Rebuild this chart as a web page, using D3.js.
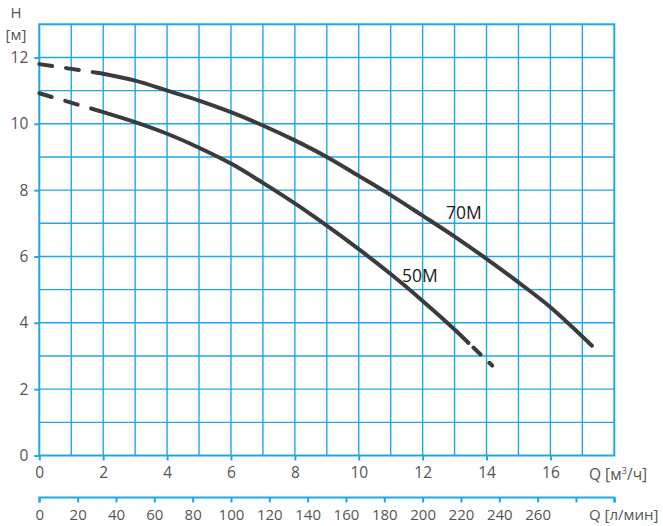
<!DOCTYPE html>
<html><head><meta charset="utf-8">
<script src="https://cdn.jsdelivr.net/npm/d3@7"></script>
<style>body{margin:0;background:#fff}svg{display:block}text{font-family:"Open Sans",sans-serif}</style>
</head><body><svg id="c" width="663" height="526"></svg>
<script>
// Data (Q in m3/h, H in m)
const yTicks = [0, 2, 4, 6, 8, 10, 12];
const xTicks = [0, 2, 4, 6, 8, 10, 12, 14, 16];
const lminTicks = [0, 20, 40, 60, 80, 100, 120, 140, 160, 180, 200, 220, 240, 260, 280, 300];
const lminLabels = [0, 20, 40, 60, 80, 100, 120, 140, 160, 180, 200, 220, 240, 260];
const m70Dashed = [[0, 11.8], [1.87, 11.53]];
const m70Solid = [[1.87, 11.53], [3, 11.3], [4, 11.0], [5, 10.7], [6, 10.35], [7, 9.95], [8, 9.5], [9, 9.0], [10, 8.43], [11, 7.85], [12, 7.23], [13, 6.6], [14, 5.93], [15, 5.22], [16, 4.47], [17.3, 3.31]];
const m50Dashed = [[0, 10.92], [1.87, 10.39]];
const m50Solid = [[1.87, 10.39], [3, 10.05], [4, 9.7], [5, 9.28], [6, 8.8], [7, 8.22], [8, 7.6], [9, 6.93], [10, 6.22], [11, 5.47], [12, 4.66], [13, 3.8], [13.43, 3.4]];
const m50Tail = [[13.43, 3.4], [14.32, 2.58]];

const svg = d3.select("#c");
const x = d3.scaleLinear().domain([0, 18]).range([39.3, 614.3]);
const y = d3.scaleLinear().domain([0, 13]).range([455.5, 24.3]);
const xl = d3.scaleLinear().domain([0, 300]).range([39.3, 614.3]);
const blue = "#1fa8e3";
const grey = "#555";
const fs = 15.5;

// grid
const g = svg.append("g");
g.selectAll(".v").data(d3.range(1, 18)).join("line")
  .attr("x1", d => x(d)).attr("x2", d => x(d)).attr("y1", y(13)).attr("y2", y(0))
  .attr("stroke", blue).attr("stroke-width", 1.4);
g.selectAll(".h").data(d3.range(1, 13)).join("line")
  .attr("y1", d => y(d)).attr("y2", d => y(d)).attr("x1", x(0)).attr("x2", x(18))
  .attr("stroke", blue).attr("stroke-width", 1.4);
g.append("rect").attr("x", x(0)).attr("y", y(13)).attr("width", x(18) - x(0)).attr("height", y(0) - y(13))
  .attr("fill", "none").attr("stroke", blue).attr("stroke-width", 2);

// axes
const xAxis = d3.axisBottom(x).tickValues(xTicks).tickSize(5).tickPadding(6).tickFormat(d3.format("d"));
const ax = svg.append("g").attr("transform", `translate(0,${y(0)})`).call(xAxis);
const yAxis = d3.axisLeft(y).tickValues(yTicks).tickSize(5).tickPadding(6).tickFormat(d3.format("d"));
const ay = svg.append("g").attr("transform", `translate(${x(0)},0)`).call(yAxis);
const lAxis = d3.axisBottom(xl).tickValues(lminTicks).tickSize(5).tickPadding(7)
  .tickFormat(d => lminLabels.includes(d) ? d : "");
const al = svg.append("g").attr("transform", "translate(0,497.5)").call(lAxis);
[ax, ay, al].forEach(a => {
  a.select(".domain").attr("stroke", blue).attr("stroke-width", 2);
  a.selectAll(".tick line").attr("stroke", blue).attr("stroke-width", 2);
  a.selectAll("text").attr("fill", grey).attr("font-size", fs).attr("font-family", "Open Sans, sans-serif");
});
al.selectAll("text").attr("font-size", 15);
ay.select(".domain").remove();
ax.select(".domain").remove();
al.select(".domain").attr("d", `M${xl(0)},5V0H${xl(300)}V5`);

// axis titles
svg.append("text").attr("x", 16).attr("y", 18).attr("text-anchor", "middle").attr("fill", grey).attr("font-size", 15).text("H");
svg.append("text").attr("x", 16).attr("y", 40).attr("text-anchor", "middle").attr("fill", grey).attr("font-size", 15).text("[м]");
const q1 = svg.append("text").attr("x", 589).attr("y", 480).attr("fill", grey).attr("font-size", fs);
q1.append("tspan").text("Q [м");
q1.append("tspan").attr("font-size", 9.5).attr("dy", -6).text("3");
q1.append("tspan").attr("dy", 6).text("/ч]");
svg.append("text").attr("x", 589).attr("y", 520).attr("fill", grey).attr("font-size", 15).text("Q [л/мин]");

// curves
const line = d3.line().x(d => x(d[0])).y(d => y(d[1])).curve(d3.curveCatmullRom.alpha(0.5));
const curveColor = "#3b3b3b";
function draw(data, dash) {
  const p = svg.append("path").datum(data).attr("d", line).attr("fill", "none")
    .attr("stroke", curveColor).attr("stroke-width", 4).attr("stroke-linecap", "round");
  if (dash) p.attr("stroke-dasharray", dash);
}
draw(m70Solid);
draw(m50Solid);
draw(m70Dashed, "13,14");
draw(m50Dashed, "13,14");
draw(m50Tail, "0,7,10,12,4,20");

svg.append("text").attr("x", 446).attr("y", 219).attr("fill", "#1a1a1a").attr("font-size", 17.5).text("70M");
svg.append("text").attr("x", 402).attr("y", 282).attr("fill", "#1a1a1a").attr("font-size", 17.5).text("50M");
</script></body></html>
